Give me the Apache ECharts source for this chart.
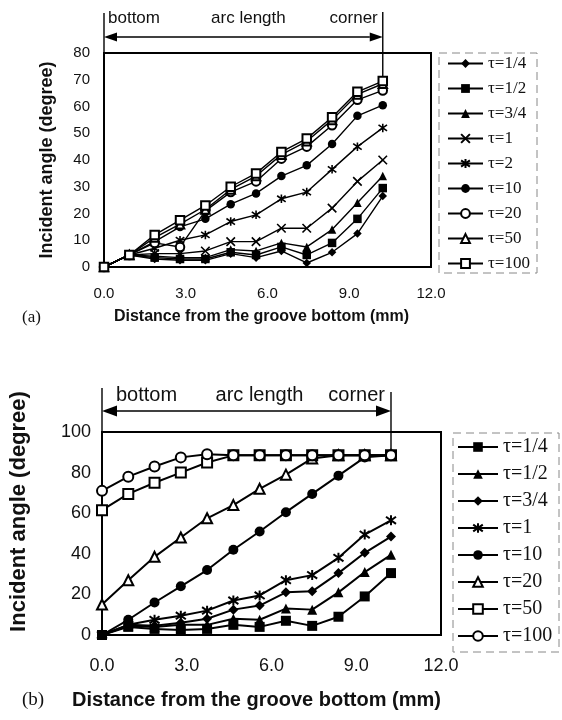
<!DOCTYPE html>
<html>
<head>
<meta charset="utf-8">
<script src="https://cdn.jsdelivr.net/npm/echarts@6/dist/echarts.min.js"></script>
<style>
html,body{margin:0;padding:0;background:#fff;}
#main{width:562px;height:720px;}
</style>
</head>
<body>
<div id="main"></div>
<script>
// distance from the groove bottom (mm), same stations in both panels
var xDist = [0, 0.93, 1.86, 2.79, 3.72, 4.65, 5.58, 6.51, 7.44, 8.37, 9.30, 10.23];

// panel (a)
var namesA = ['τ=1/4', 'τ=1/2', 'τ=3/4', 'τ=1', 'τ=2', 'τ=10', 'τ=20', 'τ=50', 'τ=100'];
var a_t14  = [0, 4.5, 3, 2.5, 2.5, 5, 3.5, 6, 1.5, 5.5, 12.5, 26.5];
var a_t12  = [0, 4.5, 3.5, 3, 3, 5.5, 4.5, 7.5, 4.5, 9, 18, 29.5];
var a_t34  = [0, 4.5, 4, 3.5, 3.5, 6.5, 6, 9, 7.5, 14, 24, 34];
var a_t1   = [0, 4.5, 5, 5, 6, 9.5, 9.5, 14.5, 14.5, 22, 32, 40];
var a_t2   = [0, 4.5, 7, 10, 12, 17, 19.5, 25.5, 28, 36.5, 45, 52];
var a_t10  = [0, 4.5, 9.5, 15, 18, 23.5, 27.5, 34, 38, 46, 56.5, 60.5];
var a_t20  = [0, 4.5, 9, 7.5, 21, 28, 32, 40.5, 45, 53, 62.5, 66];
var a_t50  = [0, 4.5, 11, 16, 21.5, 29, 34, 42, 47, 55, 64.5, 68.5];
var a_t100 = [0, 4.5, 12, 17.5, 23, 30, 35, 43, 48, 56, 65.5, 69.5];

// panel (b)
var namesB = ['τ=1/4', 'τ=1/2', 'τ=3/4', 'τ=1', 'τ=10', 'τ=20', 'τ=50', 'τ=100'];
var b_t14  = [0, 4, 3, 2.5, 3, 5, 4, 7, 4.5, 9, 19, 30.5];
var b_t12  = [0, 4.5, 4, 5, 5, 8, 7.5, 13, 12.5, 21, 31, 39.5];
var b_t34  = [0, 5, 4.5, 6, 8, 12.5, 14.5, 21, 21.5, 30.5, 40.5, 48.5];
var b_t1   = [0, 5, 7.5, 9.5, 12, 17, 19.5, 27, 29.5, 38, 49.5, 56.5];
var b_t10  = [0, 7.5, 16, 24, 32, 42, 51, 60.5, 69.5, 78.5, 87.5, 88.5];
var b_t20  = [15, 27, 38.5, 48, 57.5, 64, 72, 79, 87, 88.5, 88.5, 88.5];
var b_t50  = [61.5, 69.5, 75, 80, 85, 88.5, 88.5, 88.5, 88.5, 88.5, 88.5, 88.5];
var b_t100 = [71, 78, 83, 87.5, 89, 88.5, 88.5, 88.5, 88.5, 88.5, 88.5, 88.5];

var SANS = '"Liberation Sans", Arial, sans-serif';
var SERIF = '"Liberation Serif", "Times New Roman", serif';
var CROSS = 'path://M0,0L10,10M10,0L0,10';
var STAR = 'path://M0,0L10,10M10,0L0,10M5,-2L5,12';

var chart = echarts.init(document.getElementById('main'));

//一条曲线
function mk(prefix, name, vals, sym, gi) {
  var big = gi == 1;
  var stroke = sym.indexOf('path://') == 0;
  return {
    name: prefix + name,
    type: 'line',
    xAxisIndex: gi,
    yAxisIndex: gi,
    data: vals.map(function (v, i) { return [xDist[i], v]; }),
    symbol: sym,
    symbolSize: big ? 10 : 8.5,
    showAllSymbol: true,
    lineStyle: { color: '#000', width: big ? 2 : 1.4 },
    itemStyle: { color: '#000', borderColor: '#000', borderWidth: stroke ? (big ? 2 : 1.6) : 0 },
    emphasis: { disabled: true },
    z: 3
  };
}

var seriesA = [
  mk('a:', namesA[0], a_t14, 'diamond', 0),
  mk('a:', namesA[1], a_t12, 'rect', 0),
  mk('a:', namesA[2], a_t34, 'triangle', 0),
  mk('a:', namesA[3], a_t1, CROSS, 0),
  mk('a:', namesA[4], a_t2, STAR, 0),
  mk('a:', namesA[5], a_t10, 'circle', 0),
  mk('a:', namesA[6], a_t20, 'emptyCircle', 0),
  mk('a:', namesA[7], a_t50, 'emptyTriangle', 0),
  mk('a:', namesA[8], a_t100, 'emptyRect', 0)
];
var seriesB = [
  mk('b:', namesB[0], b_t14, 'rect', 1),
  mk('b:', namesB[1], b_t12, 'triangle', 1),
  mk('b:', namesB[2], b_t34, 'diamond', 1),
  mk('b:', namesB[3], b_t1, STAR, 1),
  mk('b:', namesB[4], b_t10, 'circle', 1),
  mk('b:', namesB[5], b_t20, 'emptyTriangle', 1),
  mk('b:', namesB[6], b_t50, 'emptyRect', 1),
  mk('b:', namesB[7], b_t100, 'emptyCircle', 1)
];

function xAx(gi, fs, gap, nameFs, shift) {
  return {
    type: 'value', gridIndex: gi, min: 0, max: 12, interval: 3,
    name: 'Distance from the groove bottom (mm)',
    nameLocation: 'middle', nameGap: gap,
    nameTextStyle: { fontFamily: SANS, fontWeight: 'bold', fontSize: nameFs, color: '#111', padding: [0, shift * 2, 0, 0] },
    axisLine: { lineStyle: { color: '#000', width: 2 } },
    axisTick: { show: false },
    splitLine: { show: false },
    axisLabel: { fontFamily: SANS, fontSize: fs, color: '#111', margin: gi == 1 ? 22 : 19,
      formatter: function (v) { return v.toFixed(1); } }
  };
}
function yAx(gi, max, step, fs, gap, nameFs, margin, up) {
  return {
    type: 'value', gridIndex: gi, min: 0, max: max, interval: step,
    name: 'Incident angle (degree)',
    nameLocation: 'middle', nameGap: gap, nameRotate: 90,
    nameTextStyle: { fontFamily: SANS, fontWeight: 'bold', fontSize: nameFs, color: '#111', padding: [0, 0, 0, up * 2] },
    axisLine: { show: true, lineStyle: { color: '#000', width: 2 } },
    axisTick: { show: false },
    splitLine: { show: false },
    axisLabel: { fontFamily: SANS, fontSize: fs, color: '#111', margin: margin }
  };
}

chart.setOption({
  animation: false,
  backgroundColor: '#fff',
  grid: [
    { left: 104, top: 53, width: 327, height: 214, show: true, borderColor: '#000', borderWidth: 2 },
    { left: 99, top: 432, width: 342, height: 203, show: true, borderColor: '#000', borderWidth: 2 }
  ],
  xAxis: [xAx(0, 15, 42, 16, 6), xAx(1, 18, 55, 20, 15)],
  yAxis: [yAx(0, 80, 10, 15, 48, 18, 14, 0), yAx(1, 100, 20, 18, 72, 22, 11, 22)],
  legend: [
    {
      orient: 'vertical', left: 447, top: 55, padding: 0,
      itemWidth: 35, itemHeight: 11, itemGap: 8,
      selectedMode: false,
      textStyle: { fontFamily: SERIF, fontSize: 17, lineHeight: 17, color: '#111' },
      formatter: function (n) { return n.slice(2); },
      data: namesA.map(function (n) { return 'a:' + n; })
    },
    {
      orient: 'vertical', left: 457, top: 437, padding: 0,
      itemWidth: 40, itemHeight: 12, itemGap: 7,
      selectedMode: false,
      textStyle: { fontFamily: SERIF, fontSize: 20, lineHeight: 20, color: '#111' },
      formatter: function (n) { return n.slice(2); },
      data: namesB.map(function (n) { return 'b:' + n; })
    }
  ],
  series: seriesA.concat(seriesB)
});

//上方 bottom / arc length / corner 标注
function note(gi, topVal, endVal, o) {
  var p0 = chart.convertToPixel({ gridIndex: gi }, [xDist[0], topVal]);
  var p1 = chart.convertToPixel({ gridIndex: gi }, [xDist[xDist.length - 1], endVal]);
  var L = p0[0], R = p1[0], T = p0[1];
  var ay = T - o.arrow, ty = T - o.text;
  var font = o.fs + 'px ' + SANS;
  var h = o.head, w = o.headW;
  function txt(s, x, al) {
    return { type: 'text', silent: true, style: { text: s, x: x, y: ty, font: font, fill: '#111',
      textAlign: al, align: al, textVerticalAlign: 'middle', verticalAlign: 'middle' } };
  }
  return [
    { type: 'line', silent: true, shape: { x1: L, y1: T - o.lineL, x2: L, y2: T }, style: { stroke: '#000', lineWidth: 1.4 } },
    { type: 'line', silent: true, shape: { x1: R, y1: T - o.lineR, x2: R, y2: p1[1] }, style: { stroke: '#000', lineWidth: 1.4 } },
    { type: 'line', silent: true, shape: { x1: L + h, y1: ay, x2: R - h, y2: ay }, style: { stroke: '#000', lineWidth: 1.4 } },
    { type: 'polygon', silent: true, shape: { points: [[L, ay], [L + h, ay - w], [L + h, ay + w]] }, style: { fill: '#000' } },
    { type: 'polygon', silent: true, shape: { points: [[R, ay], [R - h, ay - w], [R - h, ay + w]] }, style: { fill: '#000' } },
    txt('bottom', L + o.dl, 'left'),
    txt('arc length', (L + R) / 2 + o.dc, 'center'),
    txt('corner', R - o.dr, 'right')
  ];
}

var g = note(0, 80, a_t100[11], { arrow: 16, text: 35, fs: 17, head: 13, headW: 4.5, lineL: 40, lineR: 41, dl: 4, dc: 5, dr: 5 })
  .concat(note(1, 100, b_t50[11], { arrow: 21, text: 37, fs: 20, head: 15, headW: 5.5, lineL: 44, lineR: 40, dl: 14, dc: 13, dr: 6 }));

// 图号 + 图例虚线框
g.push({ type: 'text', silent: true, style: { text: '(a)', x: 22, y: 318, font: '17px ' + SERIF, fill: '#111', verticalAlign: 'middle', textVerticalAlign: 'middle' } });
g.push({ type: 'text', silent: true, style: { text: '(b)', x: 22, y: 700, font: '19px ' + SERIF, fill: '#111', verticalAlign: 'middle', textVerticalAlign: 'middle' } });
g.push({ type: 'rect', silent: true, z: -1, shape: { x: 439, y: 53, width: 98, height: 220 }, style: { fill: 'none', stroke: '#888', lineWidth: 1, lineDash: [8, 5] } });
g.push({ type: 'rect', silent: true, z: -1, shape: { x: 453, y: 433, width: 106, height: 219 }, style: { fill: 'none', stroke: '#888', lineWidth: 1, lineDash: [8, 5] } });

chart.setOption({ graphic: g });
</script>
</body>
</html>
